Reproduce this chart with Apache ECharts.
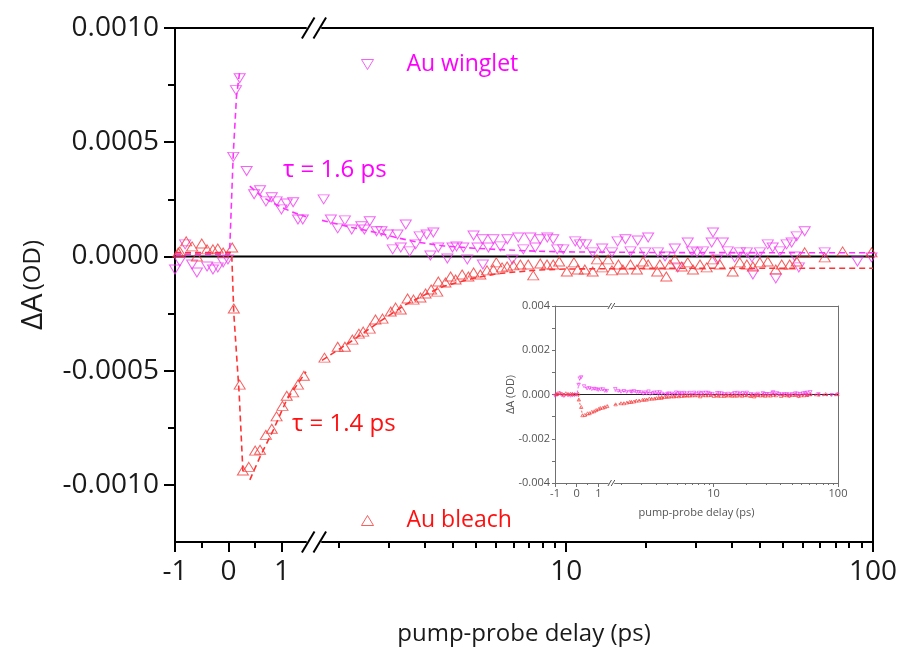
<!DOCTYPE html>
<html>
<head>
<meta charset="utf-8">
<script src="https://cdn.jsdelivr.net/npm/echarts@6.0.0/dist/echarts.min.js"></script>
<style>
html,body{margin:0;padding:0;background:#ffffff;}
#chart{width:901px;height:650px;}
</style>
</head>
<body>
<div id="chart"></div>
<script>
// ---------------- data (delay in ps, ΔA in OD) ----------------
const wingletPoints = [
  [-1.00,-0.000057],[-0.91,-0.000022],[-0.81,0.000053],[-0.68,-0.000035],[-0.59,-0.000070],
  [-0.40,-0.000044],[-0.29,-0.000057],[-0.20,-0.000048],[-0.10,-0.000026],[-0.01,-0.000013],
  [0.09,0.000436],[0.14,0.000728],[0.21,0.000780],
  [0.34,0.000374],[0.48,0.000272],[0.59,0.000290],[0.70,0.000241],[0.81,0.000259],[0.90,0.000241],
  [0.99,0.000206],[1.09,0.000232],[1.21,0.000237],[1.30,0.000162],[1.39,0.000162],
  [1.62,0.000250],[1.71,0.000162],[1.80,0.000123],[1.90,0.000158],[2.00,0.000118],[2.15,0.000132],
  [2.20,0.000118],[2.29,0.000154],[2.41,0.000110],[2.50,0.000110],[2.62,0.000096],[2.72,0.000031],
  [2.82,0.000096],[2.89,0.000039],[3.00,0.000140],[3.09,0.000022],[3.23,0.000053],[3.33,0.000088],
  [3.51,0.000096],[3.61,0.000004],[3.69,0.000105],[3.83,0.000039],[4.10,-0.000009],[4.26,0.000039],
  [4.39,0.000044],[4.62,0.000039],[4.76,-0.000013],[4.99,0.000092],[5.14,0.000039],[5.33,0.000075],
  [5.35,-0.000035],[5.58,0.000039],[5.79,0.000075],[6.10,0.000044],[6.43,0.000075],[6.68,-0.000013],
  [6.98,0.000083],[7.25,0.000031],[7.64,0.000083],[7.93,0.000039],[8.23,0.000075],[8.68,0.000083],
  [9.07,0.000075],[9.35,0.000031],[9.78,0.000031],[10.7,0.000066],[11.1,0.000053],[11.6,0.000053],
  [12.2,0.000018],[13.1,0.000035],[14.1,0.000018],[14.7,0.000066],[15.6,0.000075],[16.2,0.000022],
  [17.1,0.000070],[18.1,0.000018],[18.5,0.000083],[19.9,0.000018],[21.0,0.000000],[22.6,0.000035],
  [23.1,-0.000048],[24.9,0.000061],[25.7,0.000022],[26.7,0.000018],[27.9,0.000022],[29.8,0.000061],
  [30.1,0.000105],[31.0,-0.000013],[32.4,0.000061],[33.6,0.000022],[35.4,-0.000004],[36.8,0.000018],
  [38.8,0.000018],[40.3,-0.000004],[40.6,-0.000079],[42.8,0.000018],[45.4,0.000053],[47.1,0.000039],
  [48.2,-0.000096],[49.7,0.000022],[52.3,0.000053],[54.3,0.000061],[55.6,0.000000],[56.4,0.000088],
  [57.3,-0.000048],[59.9,0.000110],[69.6,0.000018],[89.0,-0.000022],[98.9,-0.000004]
];
const bleachPoints = [
  [-0.94,0.0000175],[-0.91,0.000022],[-0.79,0.000066],[-0.68,0.000044],[-0.59,0.000000],[-0.50,0.000057],
  [-0.40,0.000031],[-0.29,0.000031],[-0.20,0.000035],[-0.10,0.0000175],[0.07,0.000039],
  [0.10,-0.000228],[0.21,-0.000561],[0.27,-0.000937],[0.38,-0.000921],[0.50,-0.000850],[0.59,-0.000846],
  [0.70,-0.000781],[0.81,-0.000754],[0.90,-0.000700],[1.01,-0.000654],[1.09,-0.000610],[1.21,-0.000595],
  [1.30,-0.000561],[1.41,-0.000522],
  [1.63,-0.000443],[1.80,-0.000395],[1.90,-0.000395],[2.01,-0.000364],[2.11,-0.000338],[2.18,-0.000329],
  [2.29,-0.000316],[2.39,-0.000276],[2.52,-0.000272],[2.68,-0.000241],[2.78,-0.000224],[2.89,-0.000232],
  [3.04,-0.000184],[3.18,-0.000189],[3.35,-0.000180],[3.48,-0.000162],[3.63,-0.000145],[3.80,-0.000154],
  [3.83,-0.000110],[4.04,-0.000114],[4.20,-0.000088],[4.36,-0.000101],[4.58,-0.000079],[4.80,-0.000088],
  [4.99,-0.000070],[5.25,-0.000079],[5.52,-0.000061],[5.79,-0.000057],[5.92,-0.000026],[6.18,-0.000048],
  [6.42,-0.000044],[6.73,-0.000039],[7.09,-0.000035],[7.52,-0.000035],[7.81,-0.000083],[8.23,-0.000031],
  [8.66,-0.000035],[9.07,-0.000035],[9.49,-0.000022],[10.05,-0.000066],[10.6,-0.000026],[10.9,-0.000057],
  [11.5,-0.000057],[12.2,-0.000066],[12.6,-0.000013],[13.1,-0.000048],[13.7,-0.000013],[14.1,-0.000061],
  [14.8,-0.000035],[15.3,-0.000057],[16.2,-0.000035],[17.0,-0.000057],[17.8,-0.000022],[18.5,-0.000035],
  [19.8,-0.000066],[20.2,-0.000035],[21.2,-0.000088],[21.8,-0.000035],[22.6,-0.000013],[23.8,-0.000044],
  [24.9,-0.000026],[25.9,-0.000057],[27.3,-0.000035],[28.7,-0.000048],[30.1,-0.000013],[31.7,-0.000035],
  [34.9,-0.000066],[36.8,-0.000026],[38.8,-0.000035],[40.6,-0.000044],[42.8,-0.000026],[45.4,-0.000022],
  [48.2,-0.000057],[50.4,-0.000035],[53.5,-0.000035],[56.4,-0.000022],[59.9,0.000018],[69.6,-0.000004],
  [79.6,0.000022],[98.9,0.000018]
];
const wingletRiseFit = [[-1,0.00001],[0.02,0.00001],[0.09,0.00045],[0.15,0.0007],[0.21,0.00081]];
const wingletDecayFit = [
  [0.40,0.000308],[0.6,0.000266],[0.8,0.000238],[1.0,0.000214],[1.2,0.000194],[1.45,0.000174],
  [1.6,0.000158],[2.0,0.000127],[2.4,0.000105],[2.85,0.00008],[3.3,0.000062],[4,0.000046],[5,0.000036],
  [6.5,0.000028],[8,0.000023],[10,0.00002],[20,0.000017],[100,0.000016]
];
const bleachDropFit = [[-1,0.0000175],[0.06,0.0000175],[0.10,-0.00025],[0.2,-0.0006],[0.27,-0.00094]];
const bleachDecayFit = [
  [0.40,-0.000978],[0.6,-0.000872],[0.84,-0.000759],[1.09,-0.000627],[1.45,-0.000505],
  [1.6,-0.000455],[2.0,-0.00037],[2.5,-0.00028],[3.0,-0.00021],[3.5,-0.000165],[4,-0.00013],[5,-0.000095],
  [6,-0.000075],[8,-0.00006],[10,-0.000055],[20,-0.000052],[100,-0.000052]
];
const linMajorTicks = [-1, 0, 1];
const linMinorTicks = [-0.5, 0.5];
const logMajorTicks = [10, 100];
const logMinorTicks = [1.818,2.636,3.455,4.273,5.091,5.909,6.727,7.545,8.364,9.182,
                       18.18,26.36,34.55,42.73,50.91,59.09,67.27,75.45,83.64,91.82];
const yMajorTicks = [-0.001, -0.0005, 0, 0.0005, 0.001];
const yMinorTicks = [-0.00075, -0.00025, 0.00025, 0.00075];
const seriesNames = ['Au winglet', 'Au bleach'];
const tauLabels = ['τ = 1.6 ps', 'τ = 1.4 ps'];
const xTitle = 'pump-probe delay (ps)';
const yTitleMain = 'ΔA';
const yTitleUnit = '(OD)';

// ---------------- ranges ----------------
const LIN_MIN = -1, LIN_MAX = 1.45, LOG_MIN = 1.6, LOG_MAX = 100;
const Y_MIN = -0.00125, Y_MAX = 0.001;
const IY_MIN = -0.004, IY_MAX = 0.004;

// ---------------- styles / layout ----------------
const FONT = '"Open Sans", "Noto Sans", sans-serif';
const MAG = '#ff00ff', RED = '#ff1010';
const MAG_M = '#f03cf0', RED_M = '#f23a3a';
const MAG_L = '#ff33ff', RED_L = '#ff3333';
const ICON_DOWN = 'path://M0,0L12,0L6,10Z';
const ICON_UP = 'path://M6,0L12,10L0,10Z';

const mainL = {x0:175, xb1:306, xb2:322, x1:873, top:28, bottom:542, lw:2, c:'#000', maj:10, mnr:6,
               fs:28, m:16, tc:'#1a1a1a'};
const s = (838 - 555) / (873 - 175);
const insetL = {x0:555, xb1:555 + 131*s, xb2:555 + 147*s, x1:838, top:306, bottom:483, lw:1, c:'#707070',
                maj:4, mnr:2, fs:11, m:5, tc:'#555'};

const inLeft = p => p[0] <= LIN_MAX;
const inRight = p => p[0] >= LOG_MIN;

function gridsFor(L) {
  const h = L.bottom - L.top;
  return [
    {left:L.x0, top:L.top, width:L.xb1 - L.x0, height:h},
    {left:L.xb2, top:L.top, width:L.x1 - L.xb2, height:h},
    {left:L.x0, top:L.top, width:L.x1 - L.x0, height:h}
  ];
}
function xAxesFor(L, g0) {
  const out = [];
  [false, true].forEach((isLog, k) => {
    const base = {gridIndex:g0 + k, type:isLog ? 'log' : 'value', min:isLog ? LOG_MIN : LIN_MIN,
                  max:isLog ? LOG_MAX : LIN_MAX, position:'bottom', splitLine:{show:false}};
    if (isLog) base.logBase = 10;
    const ls = {color:L.c, width:L.lw};
    out.push(Object.assign({}, base, {
      axisLine:{show:true, onZero:false, lineStyle:ls},
      axisTick:{show:true, inside:false, length:L.maj, lineStyle:ls,
                customValues:isLog ? logMajorTicks : linMajorTicks},
      axisLabel:{show:true, margin:L.m, fontSize:L.fs, color:L.tc, fontFamily:FONT,
                 customValues:isLog ? logMajorTicks : linMajorTicks,
                 formatter:v => String(Math.round(v))}
    }));
    out.push(Object.assign({}, base, {
      axisLine:{show:false, onZero:false},
      axisTick:{show:true, inside:false, length:L.mnr, lineStyle:ls,
                customValues:isLog ? logMinorTicks : linMinorTicks},
      axisLabel:{show:false}
    }));
    out.push(Object.assign({}, base, {
      position:'top', axisLine:{show:true, onZero:false, lineStyle:ls},
      axisTick:{show:false}, axisLabel:{show:false}
    }));
  });
  out.push({gridIndex:g0 + 2, type:'value', min:0, max:1, show:false});
  return out;
}

const xAxis = xAxesFor(mainL, 0).concat(xAxesFor(insetL, 3));

const mainLS = {color:'#000', width:2};
const insLS = {color:insetL.c, width:1};
const yAxis = [
  {gridIndex:0, type:'value', min:Y_MIN, max:Y_MAX, position:'left', splitLine:{show:false},
   axisLine:{show:true, onZero:false, lineStyle:mainLS},
   axisTick:{show:true, length:11, lineStyle:mainLS, customValues:yMajorTicks},
   axisLabel:{show:true, margin:16, fontSize:28, color:'#1a1a1a', fontFamily:FONT,
              customValues:yMajorTicks, formatter:v => v.toFixed(4)}},
  {gridIndex:0, type:'value', min:Y_MIN, max:Y_MAX, position:'left', splitLine:{show:false},
   axisLine:{show:false, onZero:false},
   axisTick:{show:true, length:7, lineStyle:mainLS, customValues:yMinorTicks}, axisLabel:{show:false}},
  {gridIndex:1, type:'value', min:Y_MIN, max:Y_MAX, position:'right', splitLine:{show:false},
   axisLine:{show:true, onZero:false, lineStyle:mainLS}, axisTick:{show:false}, axisLabel:{show:false}},
  {gridIndex:2, type:'value', min:Y_MIN, max:Y_MAX, show:false},
  {gridIndex:3, type:'value', min:IY_MIN, max:IY_MAX, interval:0.001, position:'left', splitLine:{show:false},
   axisLine:{show:true, onZero:false, lineStyle:insLS},
   axisTick:{show:true, length:3, lineStyle:insLS},
   axisLabel:{show:true, margin:5, fontSize:11, color:'#555', fontFamily:FONT,
              formatter:v => (Math.round(v * 1000) % 2 === 0 ? v.toFixed(3) : '')}},
  {gridIndex:4, type:'value', min:IY_MIN, max:IY_MAX, position:'right', splitLine:{show:false},
   axisLine:{show:true, onZero:false, lineStyle:insLS}, axisTick:{show:false}, axisLabel:{show:false}},
  {gridIndex:5, type:'value', min:IY_MIN, max:IY_MAX, show:false}
];

function seriesFor(xi, yi, sc) {
  const out = [];
  const addScatter = (pts, color, rot, name) => {
    const o = {type:'scatter', xAxisIndex:xi, yAxisIndex:yi, data:pts, symbol:'triangle',
               symbolRotate:rot, symbolSize:sc.sym, z:3,
               itemStyle:{color:'transparent', borderColor:color, borderWidth:sc.bw}};
    if (name) o.name = name;
    out.push(o);
  };
  const addFit = (pts, color) => out.push({type:'line', xAxisIndex:xi, yAxisIndex:yi, data:pts,
      showSymbol:false, symbol:'none', z:4, silent:true,
      lineStyle:{color:color, width:sc.fw, type:sc.dash}});
  return {out, addScatter, addFit};
}

const series = [];
function buildPanel(xLin, yLin, xLog, yLog, xOv, yOv, sc, withNames) {
  const left = seriesFor(xLin, yLin, sc);
  left.addScatter(wingletPoints.filter(inLeft), MAG_M, 180);
  left.addScatter(bleachPoints.filter(inLeft), RED_M, 0);
  left.addFit(wingletRiseFit.filter(inLeft), MAG_L);
  left.addFit(wingletDecayFit.filter(inLeft), MAG_L);
  left.addFit(bleachDropFit.filter(inLeft), RED_L);
  left.addFit(bleachDecayFit.filter(inLeft), RED_L);
  const right = seriesFor(xLog, yLog, sc);
  right.addScatter(wingletPoints.filter(inRight), MAG_M, 180, withNames ? seriesNames[0] : null);
  right.addScatter(bleachPoints.filter(inRight), RED_M, 0, withNames ? seriesNames[1] : null);
  right.addFit(wingletDecayFit.filter(inRight), MAG_L);
  right.addFit(bleachDecayFit.filter(inRight), RED_L);
  series.push(...left.out, ...right.out);
  series.push({type:'line', xAxisIndex:xOv, yAxisIndex:yOv, data:[[0, 0], [1, 0]], showSymbol:false,
               symbol:'none', silent:true, z:2, lineStyle:{color:sc.zc, width:sc.zw, type:'solid'}});
}
buildPanel(0, 0, 3, 2, 6, 3, {sym:[11, 9], bw:1, fw:1.6, dash:[6, 4], zc:'#000', zw:2}, true);
buildPanel(7, 4, 10, 5, 13, 6, {sym:[3.5, 3], bw:0.8, fw:0.8, dash:[2, 2], zc:'#222', zw:1}, false);

// ---------------- decorations ----------------
function breakMarks(L, size, color, lw) {
  const cx = (L.xb1 + L.xb2) / 2;
  const g = [];
  [L.top, L.bottom].forEach(y => {
    [-size * 0.55, size * 0.55].forEach(dx => {
      g.push({type:'line', z:50, shape:{x1:cx + dx - size * 0.6, y1:y + size, x2:cx + dx + size * 0.6, y2:y - size},
              style:{stroke:color, lineWidth:lw}});
    });
  });
  return g;
}
const graphic = [].concat(
  breakMarks(mainL, 10.5, '#000', 2),
  breakMarks(insetL, 3, '#555', 1),
  [
    {type:'text', x:283, y:170, z:50, style:{text:tauLabels[0], fill:MAG, font:'24px ' + FONT, verticalAlign:'middle'}},
    {type:'text', x:292, y:424, z:50, style:{text:tauLabels[1], fill:RED, font:'24px ' + FONT, verticalAlign:'middle'}},
    {type:'text', x:(mainL.x0 + mainL.x1) / 2, y:634, z:50,
     style:{text:xTitle, fill:'#1a1a1a', font:'24px ' + FONT, align:'center', verticalAlign:'middle'}},
    {type:'text', x:33, y:285, rotation:Math.PI / 2, z:50,
     style:{text:'{a|' + yTitleMain + '} {b|' + yTitleUnit + '}', align:'center', verticalAlign:'middle',
            rich:{a:{fontSize:30, fontFamily:FONT, fill:'#1a1a1a'}, b:{fontSize:24, fontFamily:FONT, fill:'#1a1a1a'}}}},
    {type:'text', x:(insetL.x0 + insetL.x1) / 2, y:513, z:50,
     style:{text:xTitle, fill:'#555', font:'11px ' + FONT, align:'center', verticalAlign:'middle'}},
    {type:'text', x:511, y:(insetL.top + insetL.bottom) / 2, rotation:Math.PI / 2, z:50,
     style:{text:yTitleMain + ' ' + yTitleUnit, fill:'#555', font:'11px ' + FONT, align:'center', verticalAlign:'middle'}}
  ]
);

const legendBase = {left:356, itemWidth:12, itemHeight:10, selectedMode:false,
                    textStyle:{fontSize:23, fontFamily:FONT, padding:[0, 0, 0, 28]}};
const option = {
  animation:false,
  backgroundColor:'#ffffff',
  textStyle:{fontFamily:FONT},
  grid:gridsFor(mainL).concat(gridsFor(insetL)),
  xAxis:xAxis,
  yAxis:yAxis,
  legend:[
    Object.assign({}, legendBase, {top:48, data:[{name:seriesNames[0], icon:ICON_DOWN,
      itemStyle:{color:'transparent', borderColor:MAG_M, borderWidth:1}, textStyle:{color:MAG}}]}),
    Object.assign({}, legendBase, {top:504, data:[{name:seriesNames[1], icon:ICON_UP,
      itemStyle:{color:'transparent', borderColor:RED_M, borderWidth:1}, textStyle:{color:RED}}]})
  ],
  series:series,
  graphic:graphic
};
const chart = echarts.init(document.getElementById('chart'));
chart.setOption(option);
</script>
</body>
</html>
